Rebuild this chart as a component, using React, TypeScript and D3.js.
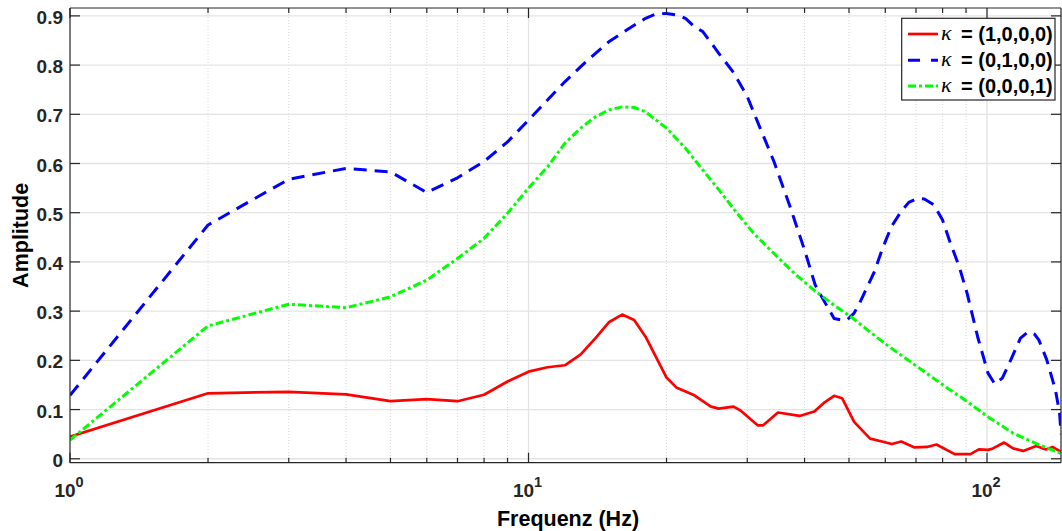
import React from "react";
import * as d3 from "d3";

// ---------- data ----------
const redFreq = [1,2,3,4,5,6,7,8,9,10,11,12,13,14,15,16,17,18,20,21,23,25,26,28,29,31.6,32.5,35,39,42,44,46.4,48.3,51.3,55.6,59,62,65,69.5,74,77.6,85,92,96,100.6,103,109,114,120,128,134.5,139,145];
const redAmp = [0.045,0.133,0.136,0.131,0.117,0.121,0.117,0.130,0.157,0.177,0.186,0.190,0.212,0.245,0.278,0.293,0.282,0.248,0.165,0.145,0.129,0.106,0.102,0.106,0.098,0.068,0.068,0.094,0.087,0.096,0.113,0.128,0.123,0.075,0.041,0.035,0.030,0.035,0.023,0.024,0.029,0.0095,0.0095,0.019,0.018,0.021,0.033,0.021,0.016,0.026,0.019,0.024,0.014];

const blueFreq = [1,2,3,4,5,6,7,8,9,10,11,12,13,14,15,16,17,18,19,20,21,22,23,24,26,28,30,32,34.3,37.2,40.1,42.2,43.6,46.4,48,49.5,51.3,52.9,56.8,59.2,61.9,64.9,67.5,70.5,73,76.6,80,83,87,90.5,95.4,100.5,104,108,112.7,118.3,123,127,129.8,135,141,144,145];
const blueAmp = [0.129,0.475,0.568,0.590,0.583,0.541,0.571,0.604,0.644,0.688,0.729,0.766,0.797,0.824,0.848,0.865,0.881,0.895,0.904,0.905,0.902,0.895,0.878,0.868,0.824,0.785,0.736,0.672,0.604,0.512,0.421,0.353,0.329,0.285,0.282,0.282,0.296,0.319,0.380,0.428,0.472,0.502,0.521,0.529,0.528,0.516,0.485,0.441,0.390,0.336,0.248,0.174,0.152,0.164,0.201,0.245,0.258,0.253,0.241,0.201,0.140,0.092,0.05];

const greenFreq = [1,2,3,4,5,6,7,8,9,10,11,12,13,14,15,16,17,18,19,20,22,23.7,26.2,28.5,31,34.3,38,41.9,46.4,50.4,59.7,70.5,83,87.5,100.6,114,130,145];
const greenAmp = [0.038,0.270,0.314,0.307,0.329,0.363,0.407,0.448,0.499,0.550,0.593,0.641,0.672,0.695,0.709,0.715,0.714,0.705,0.688,0.672,0.631,0.593,0.543,0.499,0.458,0.417,0.377,0.343,0.312,0.289,0.235,0.187,0.140,0.126,0.085,0.052,0.028,0.011];

const seriesNames = ["(1,0,0,0)", "(0,1,0,0)", "(0,0,0,1)"];
const yTicks = [0, 0.1, 0.2, 0.3, 0.4, 0.5, 0.6, 0.7, 0.8, 0.9];
const yTickLabels = ["0", "0.1", "0.2", "0.3", "0.4", "0.5", "0.6", "0.7", "0.8", "0.9"];
const xMajorTicks = [1, 10, 100];
const xMajorExp = ["0", "1", "2"];
const xMinorTicks = [2,3,4,5,6,7,8,9,20,30,40,50,60,70,80,90];
const xDomain = [1, 145];
const yDomain = [-0.008, 0.916];
const xLabel = "Frequenz (Hz)";
const yLabel = "Amplitude";

// ---------- layout ----------
const W = 1062, H = 531;
const L = 70, R = 1061, T = 8, B = 462.7;
const AX = "#262626";
const FONT = "'Liberation Sans', Arial, Helvetica, sans-serif";

const styles = [
  { color: "#ff0000", dash: undefined as string | undefined, width: 2.7 },
  { color: "#0000ff", dash: "13,8", width: 3 },
  { color: "#00ff00", dash: "8,3,3,3", width: 3 },
];

export default function App() {
  const x = d3.scaleLog().domain(xDomain).range([L, R]);
  const y = d3.scaleLinear().domain(yDomain).range([B, T]);

  const series = [
    { f: redFreq, a: redAmp },
    { f: blueFreq, a: blueAmp },
    { f: greenFreq, a: greenAmp },
  ];

  const line = d3
    .line<[number, number]>()
    .x((d) => x(d[0]))
    .y((d) => y(d[1]))
    .curve(d3.curveLinear);

  const legX = 901.7, legY = 18.3, legW = 153.3, legH = 81.7;
  const rowY = [34, 60.3, 86];

  return (
    <svg
      width={W}
      height={H}
      style={{ position: "absolute", left: 0, top: 0, background: "#fff" }}
    >
      <defs>
        <clipPath id="plotclip">
          <rect x={L} y={T} width={R - L} height={B - T} />
        </clipPath>
      </defs>
      <rect x={0} y={0} width={W} height={H} fill="#fff" />

      {/* grid */}
      <g>
        {xMinorTicks.map((v) => (
          <line key={"mg" + v} x1={x(v)} x2={x(v)} y1={T} y2={B}
            stroke="#d9d9d9" strokeWidth={1} strokeDasharray="1,2" />
        ))}
        {xMajorTicks.slice(1).map((v) => (
          <line key={"Mg" + v} x1={x(v)} x2={x(v)} y1={T} y2={B}
            stroke="#e3e3e3" strokeWidth={1.3} />
        ))}
        {yTicks.map((v) => (
          <line key={"yg" + v} x1={L} x2={R} y1={y(v)} y2={y(v)}
            stroke="#e3e3e3" strokeWidth={1.3} />
        ))}
      </g>

      {/* lines */}
      <g clipPath="url(#plotclip)">
        {series.map((s, i) => (
          <path
            key={i}
            d={line(s.f.map((f, k) => [f, s.a[k]] as [number, number])) || ""}
            fill="none"
            stroke={styles[i].color}
            strokeWidth={styles[i].width}
            strokeDasharray={styles[i].dash}
            strokeLinejoin="round"
          />
        ))}
      </g>

      {/* axes box */}
      <g stroke={AX} strokeWidth={1.2} fill="none">
        <line x1={L} x2={R} y1={B} y2={B} />
        <line x1={L} x2={R} y1={T} y2={T} />
        <line x1={L} x2={L} y1={T} y2={B} />
        <line x1={R} x2={R} y1={T} y2={B} />
        {yTicks.map((v) => (
          <g key={"yt" + v}>
            <line x1={L} x2={L + 10} y1={y(v)} y2={y(v)} />
            <line x1={R} x2={R - 10} y1={y(v)} y2={y(v)} />
          </g>
        ))}
        {xMajorTicks.map((v) => (
          <g key={"xt" + v}>
            <line x1={x(v)} x2={x(v)} y1={B} y2={B - 10} />
            <line x1={x(v)} x2={x(v)} y1={T} y2={T + 10} />
          </g>
        ))}
        {xMinorTicks.map((v) => (
          <g key={"xm" + v}>
            <line x1={x(v)} x2={x(v)} y1={B} y2={B - 5} />
            <line x1={x(v)} x2={x(v)} y1={T} y2={T + 5} />
          </g>
        ))}
      </g>

      {/* tick labels */}
      <g fontFamily={FONT} fontWeight="bold" fill={AX}>
        {yTicks.map((v, i) => (
          <text key={"yl" + v} x={63} y={y(v) + 8} fontSize={19} textAnchor="end">
            {yTickLabels[i]}
          </text>
        ))}
        {xMajorTicks.map((v, i) => (
          <text key={"xl" + v} x={x(v) - 1} y={496.5} fontSize={19} textAnchor="middle">
            <tspan>10</tspan>
            <tspan dy={-10} fontSize={14.5}>{xMajorExp[i]}</tspan>
          </text>
        ))}
      </g>

      {/* axis labels */}
      <text x={568} y={526} fontFamily={FONT} fontWeight="bold" fontSize={21.5}
        textAnchor="middle" fill="#000">{xLabel}</text>
      <text transform={`translate(28,${(T + B) / 2}) rotate(-90)`} fontFamily={FONT}
        fontWeight="bold" fontSize={21.5} textAnchor="middle" fill="#000">{yLabel}</text>

      {/* legend */}
      <g>
        <rect x={legX} y={legY} width={legW} height={legH} fill="#fff" stroke={AX} strokeWidth={1.2} />
        {seriesNames.map((n, i) => (
          <g key={"lg" + i}>
            <line x1={908} x2={938} y1={rowY[i]} y2={rowY[i]}
              stroke={styles[i].color} strokeWidth={styles[i].width}
              strokeDasharray={i === 1 ? "12,11" : styles[i].dash} />
            <text x={941} y={rowY[i] + 6} fontFamily="'Liberation Serif', 'DejaVu Serif', serif"
              fontStyle="italic" fontSize={22} fill="#000">κ</text>
            <text x={961} y={rowY[i] + 7} fontFamily={FONT} fontWeight="bold" fontSize={20} fill="#000">
              = {n}
            </text>
          </g>
        ))}
      </g>
    </svg>
  );
}
